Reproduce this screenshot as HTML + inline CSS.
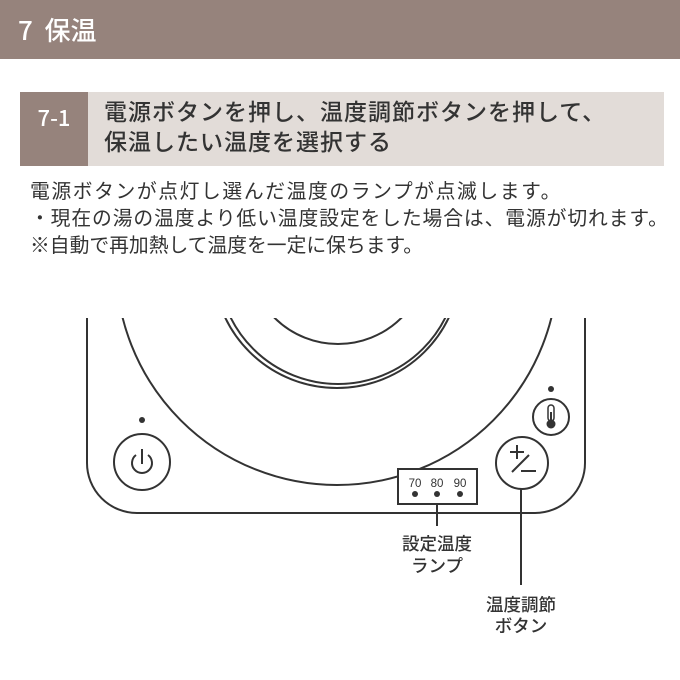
<!DOCTYPE html>
<html><head><meta charset="utf-8"><style>
body{margin:0;width:680px;height:680px;background:#fff;font-family:"Noto Sans CJK JP",sans-serif;color:#333;position:relative;overflow:hidden}
.hd{position:absolute;left:0;top:0;width:680px;height:59px;background:#96837c;color:#fff;font-size:26px;font-weight:500;line-height:59px;padding-left:18px;box-sizing:border-box}
.sub{position:absolute;left:20px;top:92px;width:644px;height:74px;background:#e2dcd8}
.num{position:absolute;left:20px;top:92px;width:68px;height:74px;background:#96837c;color:#fff;font-size:22px;font-weight:500;line-height:50px;text-align:center}
.st{position:absolute;left:104px;top:95px;font-size:23px;font-weight:500;line-height:30px;color:#333;white-space:nowrap;letter-spacing:1px}
.body{position:absolute;left:30px;top:176px;font-size:19.8px;line-height:27px;color:#333;white-space:nowrap}
</style></head><body>
<div class="hd">7&nbsp; 保温</div>
<div class="sub"></div>
<div class="num">7-1</div>
<div class="st">電源ボタンを押し、温度調節ボタンを押して、<br>保温したい温度を選択する</div>
<div class="body"><span style="letter-spacing:1.6px">電源ボタンが点灯し選んだ温度のランプが点滅します。</span><br><span style="letter-spacing:0.9px">・現在の湯の温度より低い温度設定をした場合は、電源が切れます。</span><br>※自動で再加熱して温度を一定に保ちます。</div>
<svg width="680" height="680" style="position:absolute;left:0;top:0">
<defs><clipPath id="c"><rect x="0" y="318" width="680" height="400"/></clipPath></defs>
<g fill="none" stroke="#333" stroke-width="2">
<path d="M87 318 V463 A50 50 0 0 0 137 513 H535 A50 50 0 0 0 585 463 V318"/>
<g clip-path="url(#c)">
<circle cx="337" cy="264" r="221"/>
<circle cx="337" cy="264" r="124"/>
<circle cx="338" cy="264" r="120"/>
<circle cx="338" cy="254" r="90"/>
</g>
<circle cx="142" cy="462" r="28"/>
<circle cx="551" cy="417" r="18"/>
<circle cx="522" cy="463" r="26"/>
<rect x="398" y="469" width="79" height="35" fill="#fff"/>
<line x1="437" y1="504" x2="437" y2="526"/>
<line x1="521" y1="489" x2="521" y2="585"/>
<path d="M136 455 A10 10 0 1 0 148 455"/><line x1="142" y1="449" x2="142" y2="464"/>
<path d="M510 452 h14 M517 445 v14 M512 472 l17 -17 M521 471 h15"/>
</g>
<circle cx="142" cy="420" r="3" fill="#333"/>
<circle cx="551" cy="389" r="3" fill="#333"/>
<rect x="548" y="405" width="6" height="16" rx="3" fill="none" stroke="#333" stroke-width="1.5"/>
<circle cx="551" cy="424" r="4.5" fill="#333"/>
<line x1="551" y1="412" x2="551" y2="422" stroke="#333" stroke-width="2"/>
<g font-size="11.5" fill="#333" text-anchor="middle" font-family="Liberation Sans,sans-serif">
<text x="415" y="487">70</text><text x="437" y="487">80</text><text x="460" y="487">90</text></g>
<circle cx="415" cy="494" r="3" fill="#333"/><circle cx="437" cy="494" r="3" fill="#333"/><circle cx="460" cy="494" r="3" fill="#333"/>
<g font-size="17.5" font-weight="500" fill="#333" text-anchor="middle" font-family="Noto Sans CJK JP,sans-serif">
<text x="437" y="550">設定温度</text><text x="437" y="572">ランプ</text>
<text x="521" y="611">温度調節</text><text x="521" y="632">ボタン</text></g>
</svg>
</body></html>
